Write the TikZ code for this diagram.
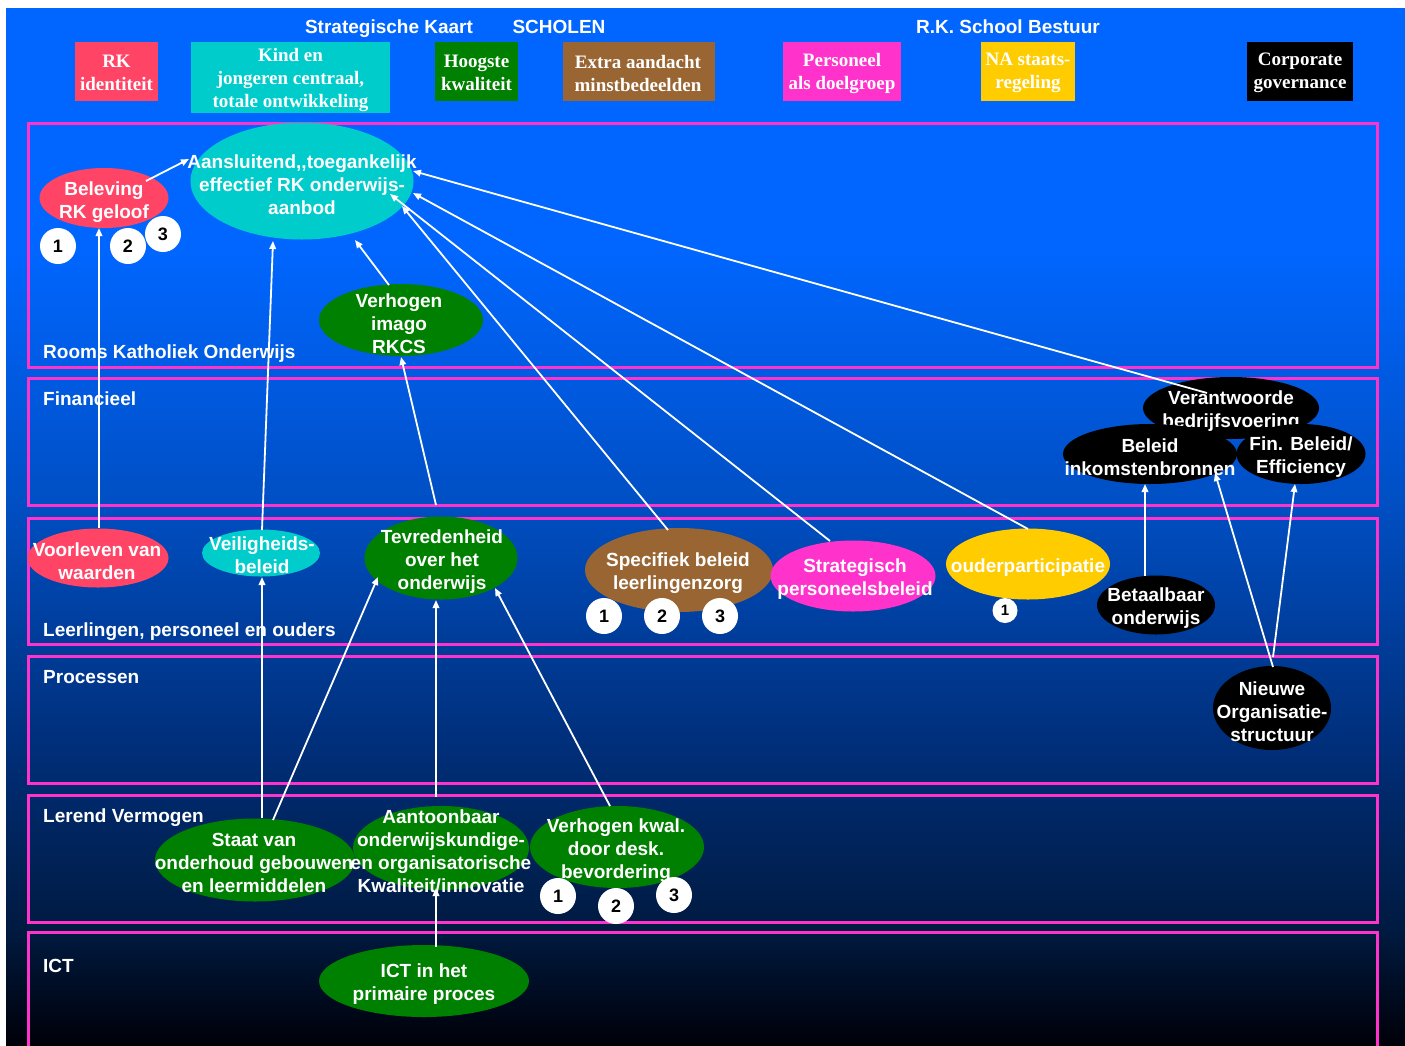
\documentclass[tikz,border=0pt]{standalone}
\usepackage{fontspec}
\setmainfont{Liberation Sans}
\newfontfamily\timesfont{Liberation Serif}
\usetikzlibrary{shapes.geometric,arrows.meta,calc}
\definecolor{rkred}{HTML}{FF4466}
\definecolor{rkcyan}{HTML}{00CCCC}
\definecolor{rkgreen}{HTML}{008000}
\definecolor{rkbrown}{HTML}{996633}
\definecolor{rkmag}{HTML}{FF33CC}
\definecolor{rkyel}{HTML}{FFCC00}
\definecolor{framepink}{HTML}{FF33CC}
\definecolor{bgA}{HTML}{0066FF}
\definecolor{bgB}{HTML}{004FC4}
\definecolor{bgC}{HTML}{002E78}
\definecolor{bgD}{HTML}{001A40}
\definecolor{bgE}{HTML}{000008}
\tikzset{
  txt/.style={font=\bfseries\fontsize{19}{23}\selectfont, text=white, align=center, inner sep=0pt},
  rowlbl/.style={font=\bfseries\fontsize{19}{23}\selectfont, text=white, anchor=base west, inner sep=0pt},
  ttl/.style={font=\bfseries\fontsize{19}{23}\selectfont, text=white, anchor=base, inner sep=0pt},
  hdr/.style={rectangle, fill=#1, inner sep=0pt, font=\timesfont\bfseries\fontsize{19}{23}\selectfont, text=white, align=center},
  blob/.style={ellipse, fill=#1, draw=none, inner sep=0pt},
  num/.style={circle, fill=white, inner sep=0pt, minimum size=36, text=black, font=\bfseries\fontsize{18}{18}\selectfont},
  numsm/.style={circle, fill=white, inner sep=0pt, minimum size=25, text=black, font=\bfseries\fontsize{15}{15}\selectfont},
  frame/.style={draw=framepink, line width=3pt},
  arr/.style={draw=white, line width=1.8pt, -{Triangle[length=8pt,width=6.5pt]}}
}
\begin{document}
\begin{tikzpicture}[x=1pt,y=-1pt]
\useasboundingbox (0,0) rectangle (1405,1045);
\fill[white] (0,0) rectangle (1405,1045);
% background gradient
\fill[bgA] (6,8) rectangle (1405,251);
\shade[top color=bgA, bottom color=bgB] (6,250) rectangle (1405,501);
\shade[top color=bgB, bottom color=bgC] (6,500) rectangle (1405,751);
\shade[top color=bgC, bottom color=bgD] (6,750) rectangle (1405,931);
\shade[top color=bgD, bottom color=bgE] (6,930) rectangle (1405,1045);

% header titles
\node[ttl] (tKaart) at (389,33) {Strategische Kaart};
\node[ttl] (tScholen) at (559,33) {SCHOLEN};
\node[ttl] (tBestuur) at (1008,33) {R.K. School Bestuur};

% header boxes
\node[hdr=rkred, minimum width=83, minimum height=59] (hRK) at (116.5,71.5) {};
\node[hdr=rkcyan, minimum width=199, minimum height=71] (hKind) at (290.5,77.5) {};
\node[hdr=rkgreen, minimum width=83, minimum height=59] (hHoog) at (476.5,71.5) {};
\node[hdr=rkbrown, minimum width=152, minimum height=59] (hExtra) at (639,71.5) {};
\node[hdr=rkmag, minimum width=118, minimum height=59] (hPers) at (842,71.5) {};
\node[hdr=rkyel, minimum width=94, minimum height=59] (hNA) at (1028,71.5) {};
\node[hdr=black, minimum width=106, minimum height=59] (hCorp) at (1300,71.5) {};
\node[hdr=none] (hRKT) at (116.5,73) {RK\\identiteit};
\node[hdr=none] (hKindT) at (290.5,80) {Kind en\\jongeren centraal,\\totale ontwikkeling};
\node[hdr=none] (hHoogT) at (476.5,73) {Hoogste\\kwaliteit};
\node[hdr=none] (hExtraT) at (638,73) {Extra aandacht\\minstbedeelden};
\node[hdr=none] (hPersT) at (842,73) {Personeel\\als doelgroep};
\node[hdr=none] (hNAT) at (1028,73) {NA staats-\\regeling};
\node[hdr=none] (hCorpT) at (1300,73) {Corporate\\governance};

% frames
\draw[frame] (28,123) rectangle (1377,367);
\draw[frame] (28,378) rectangle (1377,505);
\draw[frame] (28,518) rectangle (1377,644);
\draw[frame] (28,656) rectangle (1377,783);
\draw[frame] (28,795) rectangle (1377,922);
\draw[frame] (28,932) rectangle (1377,1048);

% row labels
\node[rowlbl] (lRK) at (43,358) {Rooms Katholiek Onderwijs};
\node[rowlbl] (lFin) at (43,405) {Financieel};
\node[rowlbl] (lLeer) at (43,636) {Leerlingen, personeel en ouders};
\node[rowlbl] (lProc) at (43,683) {Processen};
\node[rowlbl] (lLerend) at (43,822) {Lerend Vermogen};
\node[rowlbl] (lICT) at (43,972) {ICT};

% ellipses
\node[blob=rkred, minimum width=129, minimum height=60] (bel) at (104,198) {};
\node[blob=rkcyan, minimum width=223, minimum height=117] (aan) at (302,181) {};
\node[blob=rkgreen, minimum width=164, minimum height=72] (imago) at (401,320) {};

\node[blob=black, minimum width=176, minimum height=62] (verant) at (1231,408) {};
\node[txt] (verantT) at (1231,411.5) {Verantwoorde\\bedrijfsvoering};
\node[blob=black, minimum width=174, minimum height=60] (inkom) at (1150,454) {};
\node[blob=black, minimum width=129, minimum height=60] (fin) at (1301,454) {};

\node[blob=rkred, minimum width=141, minimum height=59] (voor) at (98,558) {};
\node[blob=rkcyan, minimum width=118, minimum height=47] (veil) at (261,553) {};
\node[blob=rkgreen, minimum width=153, minimum height=83] (tev) at (441,558) {};
\node[blob=rkbrown, minimum width=188, minimum height=84] (spec) at (679,570) {};
\node[blob=rkmag, minimum width=165, minimum height=71] (strat) at (853,576) {};
\node[blob=rkyel, minimum width=164, minimum height=71] (ouder) at (1028,564) {};
\node[blob=black, minimum width=118, minimum height=59] (betaal) at (1156,605) {};

\node[blob=black, minimum width=118, minimum height=84] (nieuw) at (1272,708) {};

\node[blob=rkgreen, minimum width=200, minimum height=83] (staat) at (255,860) {};
\node[blob=rkgreen, minimum width=176, minimum height=84] (aant) at (441,848) {};
\node[blob=rkgreen, minimum width=174, minimum height=82] (verk) at (617,847) {};

\node[blob=rkgreen, minimum width=210, minimum height=72] (ict) at (424,981) {};

% texts
\node[txt] (belT) at (104,202) {Beleving\\RK geloof};
\node[txt] (aanT) at (302,184.5) {Aansluitend,\kern0pt,toegankelijk\\effectief RK onderwijs-\\aanbod};
\node[txt] (imagoT) at (399,323.5) {Verhogen\\imago\\RKCS};
\node[txt] (inkomT) at (1150,457) {Beleid\\inkomstenbronnen};
\node[txt] (finT) at (1301,457) {Fin. Beleid/\\Efficiency};
\node[txt] (voorT) at (97,561) {Voorleven van\\waarden};
\node[txt] (veilT) at (262,555.5) {Veiligheids-\\beleid};
\node[txt] (tevT) at (442,561.5) {Tevredenheid\\over het\\onderwijs};
\node[txt] (specT) at (678,573) {Specifiek beleid\\leerlingenzorg};
\node[txt] (stratT) at (855,579) {Strategisch\\personeelsbeleid};
\node[txt] (ouderT) at (1028,568) {ouderparticipatie};
\node[txt] (betaalT) at (1156,608) {Betaalbaar\\onderwijs};
\node[txt] (nieuwT) at (1272,712) {Nieuwe\\Organisatie-\\structuur};
\node[txt] (staatT) at (254,862.5) {Staat van\\onderhoud gebouwen\\en leermiddelen};
\node[txt] (aantT) at (441,851) {Aantoonbaar\\onderwijskundige-\\en organisatorische\\Kwaliteit/innovatie};
\node[txt] (verkT) at (616,851) {Verhogen kwal.\\door desk.\\bevordering};
\node[txt] (ictT) at (424,984) {ICT in het\\primaire proces};

% numbered circles
\node[num] (n1a) at (58,246) {1};
\node[num] (n2a) at (128,246) {2};
\node[num] (n3a) at (163,234) {3};
\node[num] (n1b) at (604,616) {1};
\node[num] (n2b) at (662,616) {2};
\node[num] (n3b) at (720,616) {3};
\node[numsm] (n1c) at (1005,610.5) {1};
\node[num] (n1d) at (558,896) {1};
\node[num] (n2d) at (616,906) {2};
\node[num] (n3d) at (674,895) {3};

% connectors
\draw[arr] ($(voor.center)+(1,-30)$) -- ($(bel.center)+(-5,30)$);
\draw[arr] ($(bel.center)+(42,-17)$) -- ($(aan.center)+(-113,-22)$);
\draw[arr] ($(veil.center)+(1,-23)$) -- ($(aan.center)+(-29,60)$);
\draw[arr] ($(imago.center)+(-12,-35)$) -- ($(aan.center)+(53,59)$);
\draw[arr] ($(tev.center)+(-5,-53)$) -- ($(imago.center)+(0,37)$);
\draw[arr] ($(spec.center)+(-11,-40)$) -- ($(aan.center)+(100,25)$);
\draw[arr] ($(strat.center)+(-23,-35)$) -- ($(aan.center)+(88,13)$);
\draw[arr] ($(ouder.center)+(0,-35)$) -- ($(aan.center)+(111,12)$);
\draw[arr] ($(verant.center)+(-24,-15)$) -- ($(aan.center)+(111,-10)$);
\draw[arr] ($(staat.center)+(7,-42)$) -- ($(veil.center)+(1,24)$);
\draw[arr] ($(staat.center)+(18,-40)$) -- ($(tev.center)+(-63,19)$);
\draw[arr] ($(aant.center)+(-5,-51)$) -- ($(tev.center)+(-5,42)$);
\draw[arr] ($(verk.center)+(-7,-41)$) -- ($(tev.center)+(54,30)$);
\draw[arr] ($(ict.center)+(12,-34)$) -- ($(aant.center)+(-5,40)$);
\draw[arr] ($(betaal.center)+(-11,-29)$) -- ($(inkom.center)+(-5,30)$);
\draw[arr] ($(nieuw.center)+(1,-41)$) -- ($(inkom.center)+(65,19)$);
\draw[arr] ($(nieuw.center)+(1,-51)$) -- ($(fin.center)+(-6,30)$);
\end{tikzpicture}
\end{document}
